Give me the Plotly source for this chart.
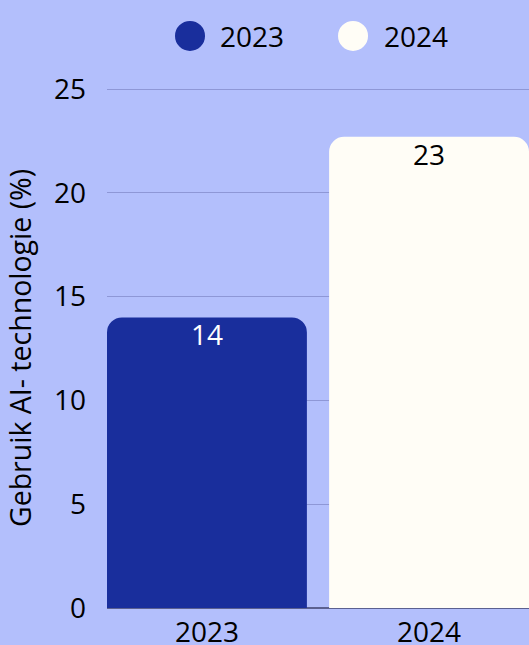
import plotly.graph_objects as go

# ---- data ----
years = ["2023", "2024"]
usage_pct = [14, 22.7]
label_text = ["14", "23"]
label_colors = ["#ffffff", "#000000"]
bar_colors = ["#192e9c", "#fffdf6"]
legend_names = ["2023", "2024"]
y_ticks = [0, 5, 10, 15, 20, 25]
y_title = "Gebruik AI- technologie (%)"

BG = "#b3bffc"
FONT = "Open Sans"
FS = 28

fig = go.Figure()
fig.add_trace(go.Bar(
    x=years, y=usage_pct,
    marker=dict(color=bar_colors, line=dict(width=0)),
    showlegend=False,
    hoverinfo="skip",
))

# value labels just inside bar tops (category index positions)
for i, (v, t, c) in enumerate(zip(usage_pct, label_text, label_colors)):
    fig.add_annotation(x=i, y=v, text=t, xref="x", yref="y",
                       yanchor="top", yshift=4, showarrow=False,
                       font=dict(family=FONT, size=FS, color=c))

# legend drawn as circles + text (plotly caps legend marker size)
leg_circle_x = [0.1967, 0.583]
leg_text_x = [0.263, 0.6517]
leg_y = 1.1002
for name, col, cx, tx in zip(legend_names, bar_colors, leg_circle_x, leg_text_x):
    fig.add_shape(type="circle", xref="paper", yref="paper",
                  xsizemode="pixel", ysizemode="pixel",
                  xanchor=cx, yanchor=leg_y,
                  x0=-15, x1=15, y0=-15, y1=15,
                  fillcolor=col, line=dict(width=0))
    fig.add_annotation(text=name, xref="paper", yref="paper",
                       x=tx, y=leg_y, xanchor="left", yanchor="middle",
                       showarrow=False,
                       font=dict(family=FONT, size=FS, color="#000000"))

fig.update_layout(
    width=529, height=645,
    margin=dict(l=107, r=0, t=88, b=37, pad=0, autoexpand=False),
    paper_bgcolor=BG, plot_bgcolor=BG,
    font=dict(family=FONT, size=FS, color="#000000"),
    bargap=0.1,
    barcornerradius=15,
    showlegend=False,
    xaxis=dict(range=[-0.45, 1.45], showgrid=False, showline=False,
               ticks="", tickfont=dict(size=FS), ticklabelstandoff=5,
               automargin=False, fixedrange=True),
    yaxis=dict(range=[0, 25.05], tickvals=y_ticks, showgrid=True,
               gridcolor="#8e97d6", gridwidth=1,
               zeroline=True, zerolinecolor="#5b6090", zerolinewidth=1.5,
               showline=False, ticks="", ticklabelstandoff=20,
               automargin=False,
               title=dict(text=y_title, font=dict(size=28.5), standoff=13)),
)

fig.write_html("out.html", config={"displayModeBar": False},
               post_script="document.body.style.margin='0';")
